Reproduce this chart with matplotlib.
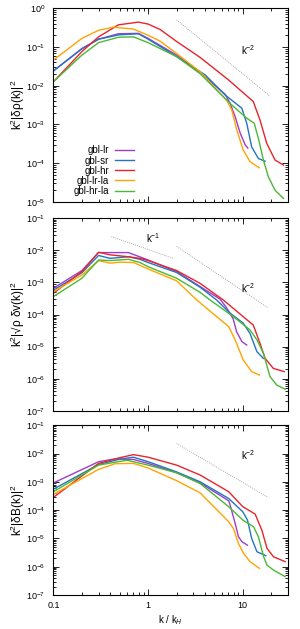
import matplotlib
matplotlib.use("Agg")
import matplotlib.pyplot as plt
import numpy as np
from matplotlib.ticker import LogLocator, LogFormatterSciNotation, NullFormatter

plt.rcParams["font.family"] = ["Liberation Sans", "DejaVu Sans"]
plt.rcParams["mathtext.fontset"] = "custom"
plt.rcParams["mathtext.rm"] = "Liberation Sans"
plt.rcParams["mathtext.it"] = "Liberation Sans:italic"
plt.rcParams["font.size"] = 7

# ---------------------------------------------------------------------------
# Data: k / k_H and log10 of the spectra
# ---------------------------------------------------------------------------
NAMES = ["gbl-lr", "gbl-sr", "gbl-hr", "gbl-lr-la", "gbl-hr-la"]
COLORS = ["#a03ccc", "#2474c0", "#e8242c", "#ffa400", "#4cb834"]

# panel 1: k^2 |d rho(k)|^2
RHO_LR_K = [0.1, 0.2, 0.3, 0.486, 0.79, 1.0, 2.0, 3.54, 6.5, 7.35, 8.3, 9.37, 10.6, 11.3]
RHO_LR_Y = [-1.62, -1.04, -0.80, -0.66, -0.65, -0.78, -1.21, -1.66, -2.22, -2.455, -2.80, -3.22, -3.53, -3.61]
RHO_SR_K = [0.1, 0.2, 0.3, 0.486, 0.79, 1.0, 2.0, 4.0, 6.5, 9.75, 11.0, 12.4, 14.6, 17.2]
RHO_SR_Y = [-1.62, -1.05, -0.80, -0.69, -0.66, -0.80, -1.25, -1.72, -2.24, -2.58, -2.97, -3.58, -3.88, -3.95]
RHO_HR_K = [0.1, 0.2, 0.3, 0.486, 0.79, 1.0, 1.34, 2.0, 3.54, 7.05, 12.9, 15.2, 17.9, 21.9, 26.9]
RHO_HR_Y = [-1.90, -1.12, -0.74, -0.43, -0.36, -0.41, -0.55, -0.86, -1.27, -1.85, -2.41, -2.89, -3.49, -3.92, -4.05]
RHO_LRLA_K = [0.1, 0.2, 0.3, 0.43, 0.7, 1.0, 1.34, 2.0, 3.54, 6.77, 7.65, 8.65, 10.1, 11.9, 14.9]
RHO_LRLA_Y = [-1.34, -0.78, -0.57, -0.49, -0.54, -0.70, -0.85, -1.17, -1.64, -2.38, -2.63, -3.15, -3.66, -3.96, -4.12]
RHO_HRLA_K = [0.1, 0.2, 0.3, 0.486, 0.7, 1.0, 2.0, 3.54, 7.35, 11.0, 13.2, 14.6, 16.5, 18.6, 21.9, 26.9]
RHO_HRLA_Y = [-1.90, -1.21, -0.89, -0.75, -0.74, -0.89, -1.25, -1.69, -2.46, -2.84, -2.97, -3.36, -3.92, -4.35, -4.70, -4.91]

# panel 2: k^2 |sqrt(rho) dv(k)|^2
V_LR_K = [0.1, 0.2, 0.3, 0.62, 1.0, 2.0, 3.54, 5.75, 6.78, 7.95, 8.6, 9.8, 11.0]
V_LR_Y = [-3.18, -2.63, -2.07, -2.07, -2.30, -2.66, -3.13, -3.52, -3.80, -4.15, -4.54, -4.85, -4.95]
V_SR_K = [0.1, 0.2, 0.3, 0.396, 0.62, 0.82, 1.0, 2.0, 3.54, 5.3, 7.35, 10.1, 11.9, 14.1, 16.5]
V_SR_Y = [-3.24, -2.70, -2.16, -2.25, -2.20, -2.28, -2.38, -2.69, -3.15, -3.55, -3.96, -4.27, -4.59, -5.16, -5.37]
V_HR_K = [0.1, 0.2, 0.3, 0.396, 0.62, 0.82, 1.0, 2.0, 3.54, 6.24, 12.9, 15.2, 17.2, 21.0, 27.3]
V_HR_Y = [-3.34, -2.66, -2.06, -2.14, -2.20, -2.25, -2.32, -2.63, -3.03, -3.55, -4.33, -4.90, -5.37, -5.68, -5.78]
V_LRLA_K = [0.1, 0.2, 0.3, 0.396, 0.5, 0.7, 1.0, 2.0, 3.27, 7.1, 8.3, 10.1, 12.4, 15.0]
V_LRLA_Y = [-3.29, -2.77, -2.32, -2.40, -2.37, -2.38, -2.58, -2.95, -3.55, -4.38, -4.79, -5.42, -5.78, -5.89]
V_HRLA_K = [0.1, 0.2, 0.3, 0.396, 0.62, 0.82, 1.0, 2.0, 3.54, 4.52, 7.96, 11.9, 14.1, 16.5, 19.4, 22.8, 28.0]
V_HRLA_Y = [-3.44, -2.87, -2.30, -2.32, -2.28, -2.38, -2.51, -2.87, -3.31, -3.55, -4.07, -4.48, -4.79, -5.21, -5.94, -6.20, -6.33]

# panel 3: k^2 |dB(k)|^2
B_LR_K = [0.1, 0.3, 0.45, 0.7, 1.0, 2.0, 3.54, 7.1, 7.35, 8.3, 9.0, 9.8, 11.2]
B_LR_Y = [-3.04, -2.29, -2.19, -2.21, -2.35, -2.68, -3.04, -3.67, -3.82, -4.47, -4.94, -5.12, -5.24]
B_SR_K = [0.1, 0.3, 0.5, 0.7, 1.0, 2.0, 3.54, 7.1, 10.0, 11.2, 12.4, 14.1, 17.5]
B_SR_Y = [-3.26, -2.39, -2.20, -2.13, -2.29, -2.65, -3.00, -3.59, -4.06, -4.35, -5.00, -5.47, -5.61]
B_HR_K = [0.1, 0.3, 0.5, 0.7, 1.0, 2.0, 3.54, 7.1, 10.0, 13.5, 15.9, 18.0, 21.1, 28.0]
B_HR_Y = [-3.55, -2.35, -2.15, -2.04, -2.13, -2.41, -2.76, -3.35, -3.88, -4.14, -4.71, -5.35, -5.65, -5.82]
B_LRLA_K = [0.1, 0.3, 0.45, 0.7, 1.0, 2.0, 3.54, 7.1, 7.96, 9.0, 10.2, 11.9, 15.0]
B_LRLA_Y = [-3.44, -2.56, -2.36, -2.35, -2.51, -2.96, -3.39, -4.41, -4.65, -5.18, -5.53, -5.82, -6.06]
B_HRLA_K = [0.1, 0.3, 0.5, 0.6, 1.0, 2.0, 3.54, 7.1, 10.0, 13.0, 14.6, 16.6, 18.0, 21.1, 28.0]
B_HRLA_Y = [-3.35, -2.41, -2.28, -2.24, -2.41, -2.68, -3.06, -3.88, -4.35, -4.59, -4.94, -5.65, -5.94, -6.12, -6.35]

# reference power laws (dotted): k range, values at ends, label position
REF_RHO = [([2.0, 19.5], [0.50, 0.0053], "k$^{-2}$", (11.5, 0.083))]
REF_V = [([0.41, 1.85], [0.0269, 0.0056], "k$^{-1}$", (1.14, 0.024)),
         ([2.0, 18.6], [0.0132, 1.6e-4], "k$^{-2}$", (11.5, 6.6e-4))]
REF_B = [([2.0, 18.6], [0.0224, 2.8e-4], "k$^{-2}$", (11.5, 8.7e-3))]

PANELS = [
    dict(ks=[RHO_LR_K, RHO_SR_K, RHO_HR_K, RHO_LRLA_K, RHO_HRLA_K],
         ys=[RHO_LR_Y, RHO_SR_Y, RHO_HR_Y, RHO_LRLA_Y, RHO_HRLA_Y],
         refs=REF_RHO, ylim=(1e-5, 1), ylabel="k$^2$|δρ(k)|$^2$",
         rect=[0.178, 0.679, 0.782, 0.308]),
    dict(ks=[V_LR_K, V_SR_K, V_HR_K, V_LRLA_K, V_HRLA_K],
         ys=[V_LR_Y, V_SR_Y, V_HR_Y, V_LRLA_Y, V_HRLA_Y],
         refs=REF_V, ylim=(1e-7, 1e-1), ylabel="k$^2$|√ρ δv(k)|$^2$",
         rect=[0.178, 0.347, 0.782, 0.306]),
    dict(ks=[B_LR_K, B_SR_K, B_HR_K, B_LRLA_K, B_HRLA_K],
         ys=[B_LR_Y, B_SR_Y, B_HR_Y, B_LRLA_Y, B_HRLA_Y],
         refs=REF_B, ylim=(1e-7, 1e-1), ylabel="k$^2$|δB(k)|$^2$",
         rect=[0.178, 0.054, 0.782, 0.270]),
]

fig = plt.figure(figsize=(3.0, 6.29), dpi=100)

for idx, p in enumerate(PANELS):
    ax = fig.add_axes(p["rect"])
    for refk, refy, txt, (tx, ty) in p["refs"]:
        ax.plot(refk, refy, ls=(0, (1, 1.5)), color="#909090", lw=0.6)
        ax.text(tx, ty, txt, ha="center", va="center", fontsize=7)
    for name, col, k, ly in zip(NAMES, COLORS, p["ks"], p["ys"]):
        ax.plot(k, 10.0 ** np.array(ly), color=col, lw=1.0, label=name)

    ax.set_xscale("log")
    ax.set_yscale("log")
    ax.set_xlim(0.1, 30)
    ax.set_ylim(*p["ylim"])
    ax.yaxis.set_major_locator(LogLocator(base=10, numticks=20))
    ax.yaxis.set_major_formatter(LogFormatterSciNotation())
    ax.yaxis.set_minor_locator(LogLocator(base=10, subs=np.arange(2, 10), numticks=20))
    ax.yaxis.set_minor_formatter(NullFormatter())
    ax.set_xticks([0.1, 1, 10])
    ax.xaxis.set_minor_locator(LogLocator(base=10, subs=np.arange(2, 10), numticks=20))
    ax.xaxis.set_minor_formatter(NullFormatter())
    if idx == 2:
        ax.set_xticklabels(["0.1", "1", "10"])
        ax.set_xlabel("k / k$_H$", fontsize=7, va="center")
        ax.xaxis.set_label_coords(0.5, -0.145)
    else:
        ax.set_xticklabels([])
    ax.tick_params(which="both", direction="in", top=True, right=True, width=0.6)
    ax.tick_params(which="major", length=4, labelsize=6.5)
    ax.tick_params(axis="y", which="major", pad=6)
    ax.tick_params(axis="x", which="major", pad=4)
    ax.tick_params(which="minor", length=2)
    for s in ax.spines.values():
        s.set_linewidth(0.8)
    ax.set_ylabel(p["ylabel"], fontsize=8.5, va="center")
    ax.yaxis.set_label_coords(-0.15, 0.5)

    if idx == 0:
        ax.legend(loc="lower right", bbox_to_anchor=(0.345, 0.03), frameon=False,
                  markerfirst=False, handlelength=2.0, handletextpad=0.6,
                  labelspacing=0.02, borderpad=0, borderaxespad=0, fontsize=7)

fig.savefig("out.png", dpi=100)
